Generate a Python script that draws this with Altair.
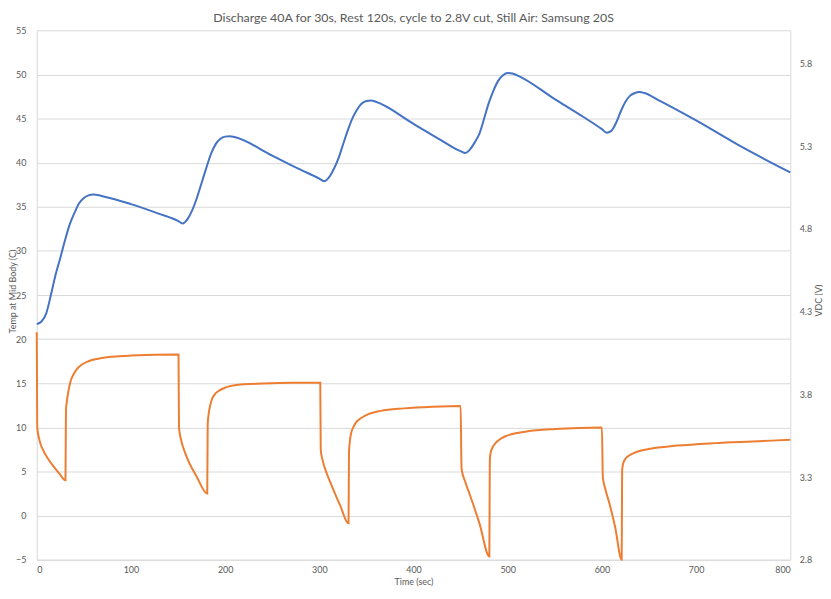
import altair as alt
import pandas as pd

# Temperature at mid body (left axis, deg C)
temp_time = [0, 5, 10, 15, 20, 25, 30, 35, 40, 45, 50, 55, 60, 70, 100, 130, 150, 155,
             160, 165, 170, 175, 180, 185, 190, 195, 200, 205, 210, 250, 280, 300, 305,
             310, 315, 320, 325, 330, 335, 340, 345, 350, 355, 360, 400, 430, 450, 455,
             460, 465, 470, 475, 480, 485, 490, 495, 500, 505, 510, 550, 580, 600, 605,
             610, 615, 620, 625, 630, 635, 640, 645, 660, 700, 750, 800]
temp_vals = [21.7, 22.0, 22.9, 25.0, 27.3, 29.2, 31.2, 33.0, 34.3, 35.4, 36.0, 36.3, 36.4, 36.2,
             35.3, 34.2, 33.4, 33.1,
             33.6, 34.6, 36.0, 37.7, 39.4, 41.0, 42.1, 42.7, 42.95, 43.0, 42.9, 40.8, 39.2, 38.2, 37.9,
             38.3, 39.2, 40.4, 42.0, 43.6, 45.0, 46.0, 46.7, 47.0, 47.05, 46.9, 44.4, 42.5, 41.3, 41.1,
             41.5, 42.3, 43.3, 45.0, 46.8, 48.2, 49.3, 49.9, 50.15, 50.1, 49.9, 47.2, 45.2, 43.8, 43.4,
             43.6, 44.5, 45.8, 46.9, 47.6, 47.9, 48.0, 47.9, 47.1, 44.8, 41.7, 38.9]

# Cell voltage (right axis, V)
volt_time = [0, 0.5, 3, 7, 12, 17, 24, 30.5,
             31, 32, 34, 36, 39, 43, 48, 55, 65, 80, 100, 150.5,
             151, 153, 156, 160, 170, 181,
             181.5, 182.5, 184, 186, 189, 193, 200, 210, 240, 270, 301,
             301.5, 304, 308, 313, 322, 331,
             331.5, 332.5, 334, 336, 339, 344, 352, 365, 390, 420, 450,
             451, 455, 460, 470, 480.5,
             481, 482, 484, 487, 491, 497, 505, 520, 550, 600,
             601, 604, 608, 614, 621,
             621.5, 622.5, 625, 629, 636, 650, 680, 720, 760, 800]
volt_vals = [4.175, 3.60, 3.52, 3.46, 3.41, 3.37, 3.32, 3.28,
             3.70, 3.76, 3.83, 3.88, 3.92, 3.955, 3.98, 4.00, 4.015, 4.027, 4.034, 4.04,
             3.60, 3.53, 3.47, 3.41, 3.30, 3.20,
             3.62, 3.68, 3.73, 3.77, 3.80, 3.82, 3.84, 3.855, 3.865, 3.87, 3.87,
             3.465, 3.39, 3.32, 3.25, 3.13, 3.02,
             3.45, 3.52, 3.57, 3.60, 3.63, 3.655, 3.68, 3.70, 3.715, 3.725, 3.73,
             3.35, 3.27, 3.19, 3.02, 2.82,
             3.40, 3.45, 3.48, 3.505, 3.525, 3.545, 3.56, 3.575, 3.59, 3.60,
             3.30, 3.22, 3.14, 3.00, 2.80,
             3.34, 3.38, 3.41, 3.43, 3.45, 3.47, 3.49, 3.505, 3.515, 3.525]

x_ticks = list(range(0, 801, 100))
temp_ticks = list(range(-5, 56, 5))
volt_ticks = [2.8, 3.3, 3.8, 4.3, 4.8, 5.3, 5.8]

temp_df = pd.DataFrame({"time": temp_time, "temp": temp_vals})
volt_df = pd.DataFrame({"time": volt_time, "volt": volt_vals})

FONT = "Lato"
GRID = "#D9D9D9"
TXT = "#595959"

x_enc = alt.X(
    "time:Q",
    scale=alt.Scale(domain=[0, 800], nice=False, zero=False),
    axis=alt.Axis(values=x_ticks, title="Time (sec)", grid=False, ticks=False,
                  domainColor=GRID, labelPadding=6, titleY=18, titleBaseline="top"),
)

temp_line = alt.Chart(temp_df).mark_line(color="#4472C4", strokeWidth=2, interpolate="monotone").encode(
    x=x_enc,
    y=alt.Y("temp:Q",
            scale=alt.Scale(domain=[-5, 55], nice=False, zero=False),
            axis=alt.Axis(orient="left", values=temp_ticks, title="Temp at Mid Body (C)",
                          grid=True, gridColor=GRID, ticks=False, domainColor=GRID,
                          labelPadding=11, titleX=-19, titleY=263)),
)

volt_line = alt.Chart(volt_df).mark_line(color="#ED7D31", strokeWidth=2, interpolate="monotone").encode(
    x=x_enc,
    y=alt.Y("volt:Q",
            scale=alt.Scale(domain=[2.8, 6.0], nice=False, zero=False),
            axis=alt.Axis(orient="right", values=volt_ticks, format=".1f", title="VDC (V)",
                          grid=False, ticks=False, domainColor=GRID, labelPadding=9,
                          titleAngle=270, titleX=28, titleY=272, titleBaseline="middle")),
)

chart = alt.layer(temp_line, volt_line).resolve_scale(y="independent").properties(
    width=760,
    height=534,
    title=alt.TitleParams("Discharge 40A for 30s, Rest 120s, cycle to 2.8V cut, Still Air: Samsung 20S",
                          anchor="middle", offset=2),
    padding={"left": 29, "top": 20, "right": 33, "bottom": 28},
    autosize=alt.AutoSizeParams(type="none"),
).configure_axis(
    labelFont=FONT, labelFontSize=9, labelColor=TXT,
    titleFont=FONT, titleFontSize=9, titleFontWeight="normal", titleColor=TXT,
).configure_view(strokeWidth=0).configure_title(
    font=FONT, fontSize=12.5, fontWeight="normal", color=TXT,
)

chart.save("out.html", embed_options={"renderer": "svg", "actions": False})
